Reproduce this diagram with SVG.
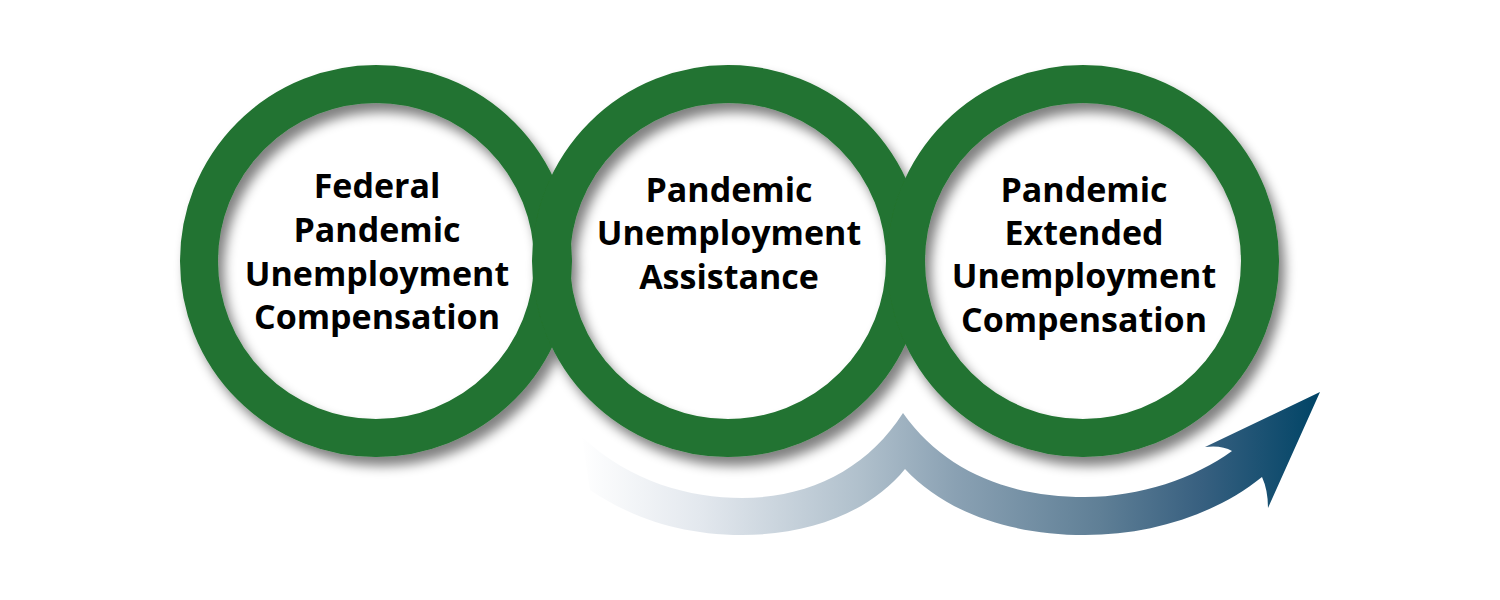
<svg xmlns="http://www.w3.org/2000/svg" width="1500" height="600" viewBox="0 0 1500 600">
<defs>
<filter id="shadow" x="-20%" y="-20%" width="140%" height="140%">
<feGaussianBlur in="SourceAlpha" stdDeviation="6"/>
<feOffset dx="6" dy="9" result="b"/>
<feComponentTransfer><feFuncA type="linear" slope="0.5"/></feComponentTransfer>
<feMerge><feMergeNode/><feMergeNode in="SourceGraphic"/></feMerge>
</filter>
<linearGradient id="arrowGrad" gradientUnits="userSpaceOnUse" x1="580" y1="0" x2="1320" y2="0">
<stop offset="0" stop-color="#ffffff"/>
<stop offset="0.162" stop-color="#e3e8ee"/>
<stop offset="0.378" stop-color="#b0c0cc"/>
<stop offset="0.507" stop-color="#8aa1b3"/>
<stop offset="0.703" stop-color="#5f7f96"/>
<stop offset="0.838" stop-color="#386080"/>
<stop offset="1" stop-color="#004466"/>
</linearGradient>
</defs>
<style>
.ring{fill:none;stroke:#217330;stroke-width:38}
.label{font-family:"Open Sans","Liberation Sans",sans-serif;font-weight:700;font-size:34px;fill:#000;text-anchor:middle}
</style>
<rect width="1500" height="600" fill="#ffffff"/>
<g id="rings" filter="url(#shadow)">
<circle class="ring" cx="376" cy="261" r="177"/>
<circle class="ring" cx="728" cy="261" r="177"/>
<circle class="ring" cx="1083" cy="261" r="177"/>
</g>
<g id="connectors">
<path fill="url(#arrowGrad)" d="M 582,437 C 630,482 690,498 742,498 C 810,498 868,468 903,413 C 945,472 1010,497 1085,497 C 1140,497 1195,478 1232,451 Q 1222,445 1205,447 L 1320,392 L 1268,508 Q 1268,490 1262,477 C 1215,515 1150,535 1085,535 C 1010,535 945,512 905,469 C 870,512 810,535 742,535 C 680,535 630,517 590,490 Z"/>
</g>
<g id="node1">
<text class="label" x="377" y="198">Federal</text>
<text class="label" x="377" y="242">Pandemic</text>
<text class="label" x="377" y="286">Unemployment</text>
<text class="label" x="377" y="329">Compensation</text>
</g>
<g id="node2">
<text class="label" x="729" y="202">Pandemic</text>
<text class="label" x="729" y="245">Unemployment</text>
<text class="label" x="729" y="289">Assistance</text>
</g>
<g id="node3">
<text class="label" x="1084" y="202">Pandemic</text>
<text class="label" x="1084" y="245">Extended</text>
<text class="label" x="1084" y="288">Unemployment</text>
<text class="label" x="1084" y="332">Compensation</text>
</g>
</svg>
